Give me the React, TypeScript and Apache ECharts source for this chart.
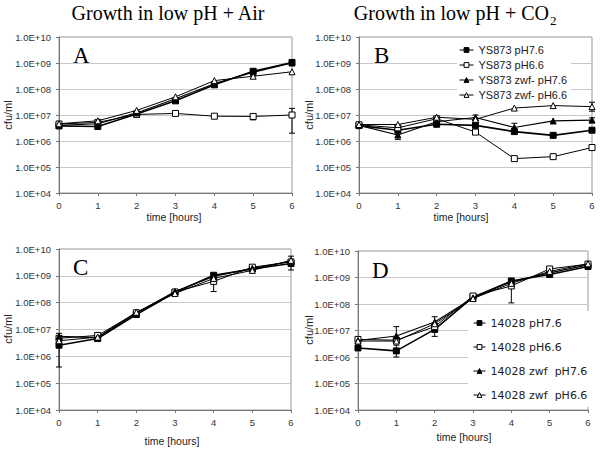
import { useEffect, useRef } from "react";
import * as echarts from "echarts";

const hours = [0, 1, 2, 3, 4, 5, 6];
const yTickLabels = ["1.0E+04", "1.0E+05", "1.0E+06", "1.0E+07", "1.0E+08", "1.0E+09", "1.0E+10"];

const namesB = ["YS873 pH7.6", "YS873 pH6.6", "YS873 zwf- pH7.6", "YS873 zwf- pH6.6"];
const namesD = ["14028 pH7.6", "14028 pH6.6", "14028 zwf  pH7.6", "14028 zwf  pH6.6"];

// Panel A: YS873, low pH + Air
const aWt76 = [3.8e6, 3.6e6, 1.1e7, 3.5e7, 1.45e8, 4.8e8, 1.05e9];
const aWt66 = [4.5e6, 5.2e6, 1.05e7, 1.15e7, 9.0e6, 8.8e6, 1.0e7];
const aZwf76 = [4.0e6, 4.6e6, 1.2e7, 4.2e7, 1.6e8, 4.4e8, 1.0e9];
const aZwf66 = [4.6e6, 6.0e6, 1.5e7, 5.0e7, 2.1e8, 3.1e8, 4.6e8];
const aErr = [[5, 6.5e6, 1.05e7], [6, 2.0e6, 1.8e7], [5, 4.0e8, 5.6e8]];

// Panel B: YS873, low pH + CO2
const bWt76 = [3.9e6, 2.6e6, 4.4e6, 4.0e6, 2.3e6, 1.65e6, 2.6e6];
const bWt66 = [4.2e6, 3.2e6, 7.2e6, 2.2e6, 2.1e5, 2.5e5, 5.6e5];
const bZwf76 = [4.0e6, 1.7e6, 5.5e6, 8.0e6, 3.3e6, 5.9e6, 6.4e6];
const bZwf66 = [4.3e6, 4.3e6, 8.2e6, 6.8e6, 1.85e7, 2.3e7, 2.1e7];
const bErr = [[1, 1.15e6, 2.4e6], [3, 6.2e6, 1.0e7], [4, 2.6e6, 4.8e6], [6, 1.4e7, 3.1e7], [6, 5.0e6, 7.8e6]];

// Panel C: 14028, low pH + Air
const cWt76 = [2.6e6, 4.6e6, 3.6e7, 2.4e8, 1.05e9, 1.8e9, 2.9e9];
const cWt66 = [4.7e6, 6.0e6, 4.2e7, 2.5e8, 6.2e8, 2.1e9, 3.3e9];
const cZwf76 = [5.5e6, 5.0e6, 4.0e7, 2.6e8, 9.5e8, 1.9e9, 3.5e9];
const cZwf66 = [3.8e6, 5.2e6, 4.4e7, 2.2e8, 8.0e8, 1.6e9, 3.8e9];
const cErr = [[0, 4.0e5, 7.2e6], [4, 2.6e8, 1.2e9], [6, 1.65e9, 5.4e9]];

// Panel D: 14028, low pH + CO2
const dWt76 = [2.2e6, 1.7e6, 1.1e7, 1.8e8, 7.4e8, 1.3e9, 2.6e9];
const dWt66 = [4.6e6, 4.3e6, 1.4e7, 2.0e8, 4.8e8, 2.1e9, 3.2e9];
const dZwf76 = [4.2e6, 6.2e6, 2.1e7, 1.7e8, 7.0e8, 1.5e9, 3.0e9];
const dZwf66 = [4.0e6, 4.0e6, 1.8e7, 1.6e8, 6.0e8, 1.7e9, 3.3e9];
const dErr = [[1, 1.0e6, 2.8e6], [1, 3.5e6, 1.4e7], [2, 6.0e6, 3.3e7], [4, 1.1e8, 9.0e8], [0, 1.9e6, 2.6e6]];

const panels = [
  { names: namesB, values: [aWt76, aWt66, aZwf76, aZwf66], err: aErr },
  { names: namesB, values: [bWt76, bWt66, bZwf76, bZwf66], err: bErr },
  { names: namesD, values: [cWt76, cWt66, cZwf76, cZwf66], err: cErr },
  { names: namesD, values: [dWt76, dWt66, dZwf76, dZwf66], err: dErr },
];

const grids = [
  { left: 59, top: 37, width: 233, height: 156 },
  { left: 359, top: 37, width: 233, height: 156 },
  { left: 59, top: 249, width: 232, height: 161 },
  { left: 358, top: 251, width: 230, height: 159 },
];

const markStyles = [
  { symbol: "rect", size: 6, fill: "#000", width: 1.6 },
  { symbol: "rect", size: 6, fill: "#fff", width: 1 },
  { symbol: "triangle", size: 6, fill: "#000", width: 1.2 },
  { symbol: "triangle", size: 6, fill: "#fff", width: 1 },
];

const SANS = "'Liberation Sans', Arial, sans-serif";
const NARROW = "'Liberation Sans Narrow', 'Liberation Sans', Arial, sans-serif";
const WIDE = "'DejaVu Sans', Verdana, sans-serif";
const SERIF = "'Liberation Serif', 'Times New Roman', serif";

function buildOption() {
  const series: any[] = [];
  panels.forEach((p, gi) => {
    series.push({
      type: "custom",
      xAxisIndex: gi,
      yAxisIndex: gi,
      silent: true,
      z: 1,
      data: p.err,
      encode: { x: 0, y: [1, 2] },
      renderItem: (_params: any, api: any) => {
        const x = api.value(0);
        const lo = api.coord([x, api.value(1)]);
        const hi = api.coord([x, api.value(2)]);
        const w = 3;
        const style = { stroke: "#000", lineWidth: 1 };
        return {
          type: "group",
          children: [
            { type: "line", shape: { x1: lo[0], y1: lo[1], x2: hi[0], y2: hi[1] }, style },
            { type: "line", shape: { x1: lo[0] - w, y1: lo[1], x2: lo[0] + w, y2: lo[1] }, style },
            { type: "line", shape: { x1: hi[0] - w, y1: hi[1], x2: hi[0] + w, y2: hi[1] }, style },
          ],
        };
      },
    });
    p.values.forEach((vals, si) => {
      const st = markStyles[si];
      series.push({
        type: "line",
        name: p.names[si],
        xAxisIndex: gi,
        yAxisIndex: gi,
        data: hours.map((h, j) => [h, vals[j]]),
        symbol: st.symbol,
        symbolSize: st.size,
        showAllSymbol: true,
        itemStyle: { color: st.fill, borderColor: "#000", borderWidth: 1 },
        lineStyle: { color: "#000", width: st.width },
        emphasis: { disabled: true },
        z: 2 + si,
      });
    });
  });

  const xAxis = grids.map((_, gi) => ({
    type: "value",
    gridIndex: gi,
    min: 0,
    max: 6,
    interval: 1,
    axisLine: { show: true, lineStyle: { color: "#777", width: 1 } },
    axisTick: { show: true, length: 3, lineStyle: { color: "#777" } },
    splitLine: { show: false },
    axisLabel: { fontSize: 9.5, fontFamily: SANS, color: "#333", margin: 7 },
  }));

  const yAxis = grids.map((_, gi) => ({
    type: "log",
    logBase: 10,
    gridIndex: gi,
    min: 1e4,
    max: 1e10,
    splitNumber: 6,
    axisLine: { show: true, lineStyle: { color: "#777", width: 1 } },
    axisTick: { show: true, length: 3, lineStyle: { color: "#777" } },
    minorTick: { show: false },
    splitLine: { show: true, lineStyle: { color: "#c8c8c8", width: 1 } },
    axisLabel: {
      fontSize: 9.5,
      fontFamily: SANS,
      color: "#333",
      margin: 8,
      formatter: (v: number) => yTickLabels[Math.round(Math.log10(v)) - 4] ?? "",
    },
  }));

  const gridOpts = grids.map((g) => ({
    ...g,
    show: true,
    borderColor: "#999",
    borderWidth: 1,
    backgroundColor: "transparent",
    containLabel: false,
  }));

  const titleTexts = [
    { type: "text", x: 168, y: 13, style: { text: "Growth in low pH + Air", font: `20px ${SERIF}`, fill: "#000", textAlign: "center", textVerticalAlign: "middle" } },
    { type: "text", x: 549, y: 13, style: { text: "Growth in low pH + CO", font: `20px ${SERIF}`, fill: "#000", textAlign: "right", textVerticalAlign: "middle" } },
    { type: "text", x: 550, y: 20, style: { text: "2", font: `13px ${SERIF}`, fill: "#000", textAlign: "left", textVerticalAlign: "middle" } },
  ];
  const letters = [
    { t: "A", x: 73, y: 55 },
    { t: "B", x: 374, y: 55 },
    { t: "C", x: 73, y: 267 },
    { t: "D", x: 372, y: 270 },
  ].map((l) => ({
    type: "text",
    x: l.x,
    y: l.y,
    z: 10,
    style: { text: l.t, font: `23px ${SERIF}`, fill: "#000", textAlign: "left", textVerticalAlign: "middle" },
  }));
  const yNames = [
    { x: 8, y: 115 },
    { x: 309, y: 115 },
    { x: 8, y: 329 },
    { x: 309, y: 330 },
  ].map((p) => ({
    type: "text",
    x: p.x,
    y: p.y,
    rotation: Math.PI / 2,
    style: { text: "cfu/ml", font: `11px ${SANS}`, fill: "#222", textAlign: "center", textVerticalAlign: "middle" },
  }));
  const xNames = [
    { x: 174, y: 217 },
    { x: 461, y: 217 },
    { x: 172, y: 441 },
    { x: 464, y: 437 },
  ].map((p) => ({
    type: "text",
    x: p.x,
    y: p.y,
    style: { text: "time [hours]", font: `10.5px ${SANS}`, fill: "#222", textAlign: "center", textVerticalAlign: "middle" },
  }));

  return {
    animation: false,
    backgroundColor: "#fff",
    grid: gridOpts,
    xAxis,
    yAxis,
    legend: [
      {
        data: namesB,
        orient: "vertical",
        left: 457,
        top: 42,
        itemWidth: 14,
        itemHeight: 6,
        itemGap: 3,
        padding: [2, 4, 2, 2],
        backgroundColor: "#fff",
        selectedMode: false,
        lineStyle: { width: 1 },
        itemStyle: { borderWidth: 1 },
        textStyle: { fontSize: 11, fontFamily: NARROW, color: "#222", lineHeight: 12 },
      },
      {
        data: namesD,
        orient: "vertical",
        left: 468,
        top: 311,
        itemWidth: 12,
        itemHeight: 6,
        itemGap: 10,
        padding: [5, 5, 5, 5],
        backgroundColor: "#fff",
        selectedMode: false,
        lineStyle: { width: 1 },
        itemStyle: { borderWidth: 1 },
        textStyle: { fontSize: 11, fontFamily: WIDE, color: "#222", lineHeight: 14 },
      },
    ],
    graphic: [...titleTexts, ...letters, ...yNames, ...xNames],
    series,
  };
}

export default function App() {
  const ref = useRef<HTMLDivElement>(null);
  useEffect(() => {
    const chart = echarts.init(ref.current!, null, { renderer: "svg" });
    chart.setOption(buildOption() as any);
    return () => chart.dispose();
  }, []);
  return (
    <div
      ref={ref}
      style={{ position: "fixed", left: 0, top: 0, width: 600, height: 460, background: "#fff" }}
    />
  );
}
